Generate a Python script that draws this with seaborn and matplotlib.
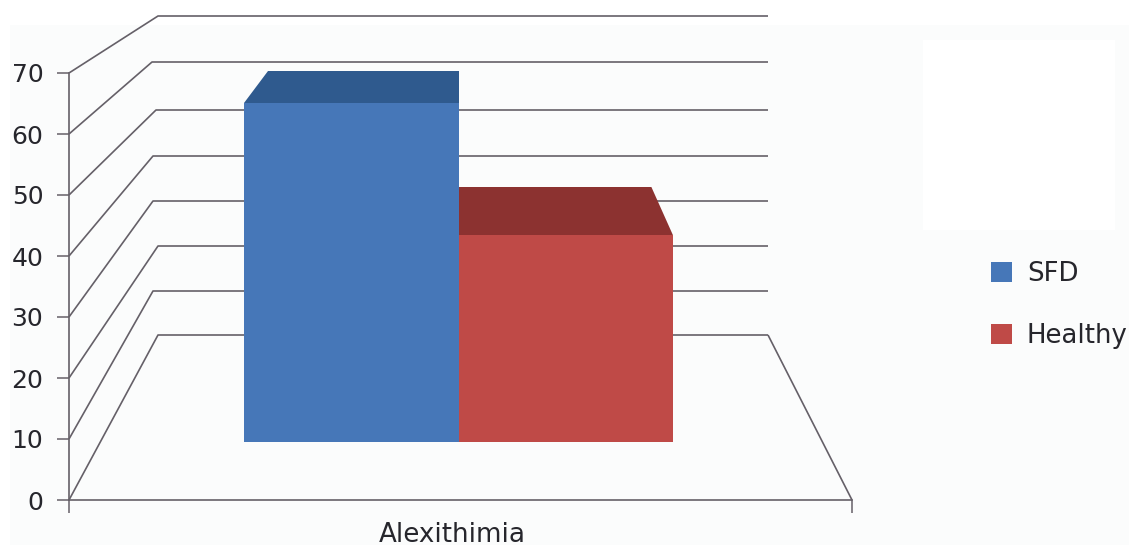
import matplotlib
matplotlib.use("Agg")
import matplotlib.pyplot as plt
from matplotlib.patches import Rectangle
import pandas as pd
import seaborn as sns

# Values
categories = ["Alexithimia"]
series_names = ["SFD", "Healthy"]
series_values = [61.0, 37.2]
y_ticks = [0, 10, 20, 30, 40, 50, 60, 70]

# Colours
front_colors = ["#4677b8", "#bf4a47"]
top_colors = ["#2f5a8e", "#8c3230"]
line_color = "#656068"
text_color = "#26262c"
backdrop_color = "#fbfcfc"

# Figure geometry in pixels
W, H = 1129, 547
FLOOR_FRONT_Y, UNIT_FRONT = 500, 6.1
FLOOR_BACK_Y, UNIT_BACK = 335, 4.557
FRONT_LEFT, FRONT_RIGHT = 69, 852
BACK_LEFT, BACK_RIGHT = 158, 768
BAR_DEPTH_FRONT, BAR_DEPTH_BACK = 0.3515, 0.80
BAR_LEFT_PX, BAR_RIGHT_PX = 244, 673

# Hand-drawn look of the back wall: row and left corner of each grid line
back_rows_px = [335, 291, 246, 201, 156, 110, 62, 16]
back_corner_px = [158, 153, 158, 153, 153, 156, 152, 158]


def to_main(x_px, y_px):
    """Convert figure pixels to main-axes data."""
    return (x_px - FRONT_LEFT) / (FRONT_RIGHT - FRONT_LEFT), (FLOOR_FRONT_Y - y_px) / UNIT_FRONT


def project(u, value, depth):
    """Map wall position u (0-1), a value and a depth (0-1) to main-axes data."""
    left = FRONT_LEFT + (BACK_LEFT - FRONT_LEFT) * depth
    right = FRONT_RIGHT + (BACK_RIGHT - FRONT_RIGHT) * depth
    floor = FLOOR_FRONT_Y + (FLOOR_BACK_Y - FLOOR_FRONT_Y) * depth
    unit = UNIT_FRONT + (UNIT_BACK - UNIT_FRONT) * depth
    return to_main(left + (right - left) * u, floor - value * unit)


sns.set_theme(style="white")
plt.rcParams["font.family"] = ["DejaVu Sans"]
fig = plt.figure(figsize=(W / 100, H / 100), dpi=100, facecolor="white")

# Pale chart backdrop with the blank white panel above the legend
fig.add_artist(Rectangle((10 / W, 1 - 545 / H), (W - 10) / W, 520 / H, transform=fig.transFigure,
                         facecolor=backdrop_color, edgecolor="none", zorder=-2))
fig.add_artist(Rectangle((923 / W, 1 - 230 / H), 192 / W, 190 / H, transform=fig.transFigure,
                         facecolor="white", edgecolor="none", zorder=-1))

# Main axes: value axis on the front edge, walls and floor in perspective
top_px = 8
ax = fig.add_axes([FRONT_LEFT / W, 1 - FLOOR_FRONT_Y / H,
                   (FRONT_RIGHT - FRONT_LEFT) / W, (FLOOR_FRONT_Y - top_px) / H])
ax.patch.set_alpha(0)
ax.set_xlim(0, 1)
ax.set_ylim(0, (FLOOR_FRONT_Y - top_px) / UNIT_FRONT)
for name in ("top", "right"):
    ax.spines[name].set_visible(False)
for name in ("left", "bottom"):
    ax.spines[name].set_color(line_color)
    ax.spines[name].set_linewidth(1.2)
ax.spines["left"].set_bounds(0, max(y_ticks))

ax.set_yticks(y_ticks)
ax.set_xticks([0, 1], labels=["", ""])
ax.set_xticks([0.489], labels=categories, minor=True)
ax.tick_params(axis="y", left=True, length=9, width=1.1, color=line_color, pad=9.5,
               labelsize=18, labelcolor=text_color)
ax.tick_params(axis="x", which="major", length=9, width=1.1, color=line_color, bottom=True)
ax.tick_params(axis="x", which="minor", length=0, pad=15.5, labelsize=18.8, labelcolor=text_color)

line_style = dict(color=line_color, lw=1.2, solid_capstyle="butt", zorder=1)
for tick, row, corner_x in zip(y_ticks, back_rows_px, back_corner_px):
    start = project(0, tick, 0)
    corner = to_main(corner_x, row)
    right = to_main(BACK_RIGHT, row)
    ax.plot([start[0], corner[0], right[0]], [start[1], corner[1], right[1]], clip_on=False, **line_style)
floor_back = project(1, 0, 1)
floor_front = project(1, 0, 0)
ax.plot([floor_back[0], floor_front[0]], [floor_back[1], floor_front[1]], clip_on=False, **line_style)

# Front faces sit on a plane part way into the floor, with its own value scale
floor_px = FLOOR_FRONT_Y + (FLOOR_BACK_Y - FLOOR_FRONT_Y) * BAR_DEPTH_FRONT
unit_px = UNIT_FRONT + (UNIT_BACK - UNIT_FRONT) * BAR_DEPTH_FRONT
plane_left = FRONT_LEFT + (BACK_LEFT - FRONT_LEFT) * BAR_DEPTH_FRONT
plane_right = FRONT_RIGHT + (BACK_RIGHT - FRONT_RIGHT) * BAR_DEPTH_FRONT
plane_w = plane_right - plane_left
bar_ax = fig.add_axes([plane_left / W, 1 - floor_px / H, plane_w / W, 75 * unit_px / H])
bar_ax.patch.set_alpha(0)

frame = pd.DataFrame({
    "category": categories * len(series_names),
    "series": series_names,
    "value": series_values,
})
sns.barplot(data=frame, x="category", y="value", hue="series", hue_order=series_names,
            palette=front_colors, saturation=1, width=0.8, errorbar=None, ax=bar_ax, linewidth=0)

# Align the grouped bars (-0.4 to 0.4) with the plane's pixel span
u_left = (BAR_LEFT_PX - plane_left) / plane_w
u_right = (BAR_RIGHT_PX - plane_left) / plane_w
span = 0.8 / (u_right - u_left)
x0 = -0.4 - u_left * span
bar_ax.set_xlim(x0, x0 + span)
bar_ax.set_ylim(0, 75)
bar_ax.axis("off")

handles, labels = bar_ax.get_legend_handles_labels()
bar_ax.get_legend().remove()

# Top faces of the bars; the edge the two bars share runs straight back
u_mid = (u_left + u_right) / 2
mid_x = project(u_mid, 0, BAR_DEPTH_FRONT)[0]
for i, (value, shade) in enumerate(zip(series_values, top_colors)):
    edge_a = u_left if i == 0 else u_mid
    edge_b = u_mid if i == 0 else u_right
    corners = [project(edge_a, value, BAR_DEPTH_FRONT), project(edge_b, value, BAR_DEPTH_FRONT),
               project(edge_b, value, BAR_DEPTH_BACK), project(edge_a, value, BAR_DEPTH_BACK)]
    xs = [c[0] for c in corners]
    if i == 0:
        xs[2] = mid_x
    else:
        xs[3] = mid_x
    ax.fill(xs, [c[1] for c in corners], color=shade, lw=0, zorder=3 - i)

fig.legend(handles, labels, loc="center left", bbox_to_anchor=(991 / W, 1 - 305 / H), frameon=False,
           fontsize=18.7, labelcolor=text_color, handlelength=0.8, handleheight=0.8,
           handletextpad=0.58, labelspacing=1.4, borderpad=0, borderaxespad=0)

fig.savefig("out.png", dpi=100)
